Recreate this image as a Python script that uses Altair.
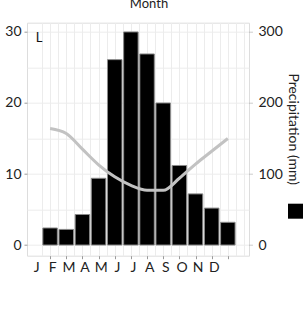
import altair as alt
import pandas as pd

months = ["J", "F", "M", "A", "M", "J", "J", "A", "S", "O", "N", "D"]
precip_mm = [24, 22, 43, 94, 261, 300, 269, 200, 112, 72, 52, 32]
temp_c = [16.4, 15.7, 13.5, 11.3, 9.6, 8.4, 7.7, 7.7, 9.4, 11.4, 13.2, 15.0]
temp_ticks = [0, 10, 20, 30]
precip_grid = [0, 50, 100, 150, 200, 250, 300]
month_grid = [0.5 * i for i in range(1, 27)]
panel_label = ["L"]
x_title = ["Month"]
y2_title = "Precipitation (mm)"

df = pd.DataFrame({"m": list(range(1, len(months) + 1)), "month": months,
                   "precip": precip_mm, "temp": temp_c,
                   "series": [y2_title] * len(months)})

W, H = 222, 233
FONT = "Lato"
xscale = alt.Scale(domain=[-0.12, 13.0], nice=False, zero=False)
month_js = "[" + ",".join("'" + m + "'" for m in months) + "]"
xaxis = alt.Axis(
    values=month_grid, grid=True, gridColor="#ececec", gridWidth=1,
    domain=False, title=None,
    labelExpr=f"(datum.value % 1 === 0 && datum.value <= 12) ? {month_js}[datum.value - 1] : ''",
    tickOpacity={"condition": {"test": "datum.value % 1 === 0 && datum.value <= 12", "value": 1}, "value": 0},
    tickSize=3, tickColor="#999999", labelPadding=2, labelOffset=-14,
    labelFont=FONT, labelFontSize=14, labelColor="#222222", labelFlush=False,
    labelOverlap=False, labelBound=False,
)

bars = alt.Chart(df).mark_bar(width=14.5, stroke="#8a8a8a", strokeWidth=1).encode(
    x=alt.X("m:Q", scale=xscale, axis=xaxis),
    y=alt.Y("precip:Q", scale=alt.Scale(domain=[-15, 313], nice=False, zero=False),
            axis=alt.Axis(
                orient="right", values=precip_grid, grid=True, gridColor="#ececec",
                domain=False, title=y2_title, titleAngle=90, titleX=44, titleY=106,
                titleAlign="center", titleBaseline="middle", titleFont=FONT,
                titleFontSize=14, titleFontWeight="normal", titleColor="#222222",
                labelExpr="datum.value % 100 === 0 ? datum.label : ''",
                tickOpacity={"condition": {"test": "datum.value % 100 === 0", "value": 1}, "value": 0},
                tickSize=4, tickColor="#999999", tickDash=[1, 1], labelPadding=5,
                labelFont=FONT, labelFontSize=14, labelColor="#222222",
            )),
    y2=alt.Y2(datum=0),
    color=alt.Color("series:N", scale=alt.Scale(range=["black"]),
                    legend=alt.Legend(orient="none", legendX=261, legendY=181, title=None,
                                      labelExpr="''", symbolType="square", symbolSize=225,
                                      symbolStrokeWidth=0, padding=0, labelLimit=1)),
)

line = alt.Chart(df).mark_line(color="#c2c2c2", strokeWidth=3, interpolate="monotone").encode(
    x=alt.X("m:Q", scale=xscale, axis=xaxis),
    y=alt.Y("temp:Q", scale=alt.Scale(domain=[-1.5, 31.3], nice=False, zero=False),
            axis=alt.Axis(orient="left", values=temp_ticks, grid=False, domain=False,
                          title=None, tickSize=3, tickColor="#999999", labelPadding=3,
                          labelFont=FONT, labelFontSize=14, labelColor="#222222")),
)

lab = alt.Chart(pd.DataFrame({"t": panel_label})).mark_text(
    font=FONT, fontSize=13, color="#111111", align="center", baseline="middle"
).encode(text="t:N", x=alt.value(12), y=alt.value(15))

mtitle = alt.Chart(pd.DataFrame({"t": x_title})).mark_text(
    font=FONT, fontSize=13, color="#222222", align="center", baseline="alphabetic"
).encode(text="t:N", x=alt.value(122), y=alt.value(-14.3))

chart = alt.layer(bars, line, lab, mtitle).resolve_scale(y="independent").properties(
    width=W, height=H,
    autosize=alt.AutoSizeParams(type="none"),
    padding={"left": 27, "top": 22.7, "right": 58, "bottom": 57.4},
).configure_view(stroke="#d6d6d6", strokeWidth=1).configure(background="white")

chart.save("out.html", embed_options={"renderer": "svg", "actions": False})
